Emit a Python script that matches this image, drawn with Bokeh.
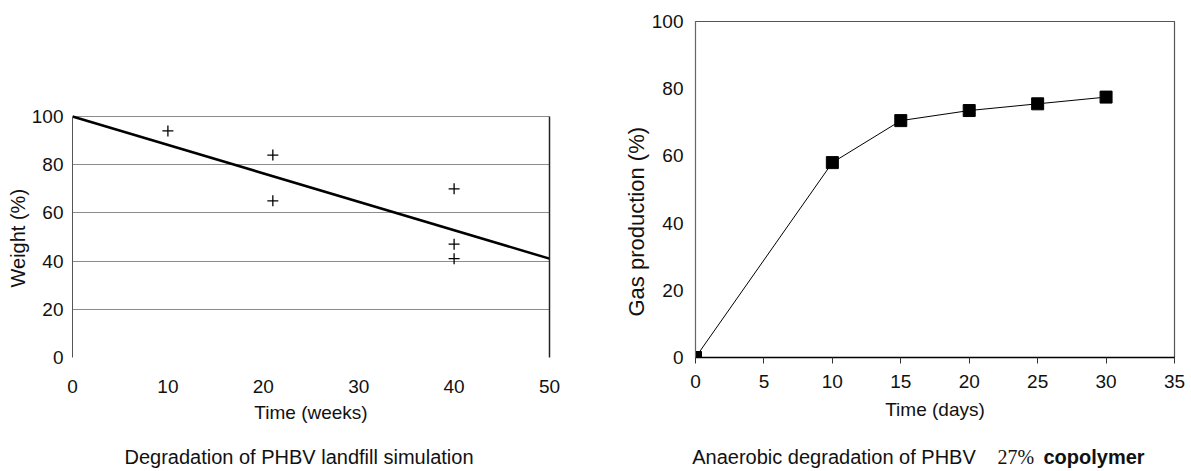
from bokeh.plotting import figure
from bokeh.layouts import row, column
from bokeh.models import Range1d, FixedTicker, LinearAxis, Title
from bokeh.core.properties import value
from bokeh.embed import file_html
from bokeh.resources import INLINE

# ---- data: left chart (landfill simulation) ----
weeks_pts = [10, 21, 21, 40, 40, 40]
weight_pts = [94, 84, 65, 70, 47, 41]
fit_weeks = [0, 50]
fit_weight = [100, 41]
left_xticks = [0, 10, 20, 30, 40, 50]
left_yticks = [0, 20, 40, 60, 80, 100]

# ---- data: right chart (anaerobic degradation) ----
days = [0, 10, 15, 20, 25, 30]
gas = [0, 58, 70.5, 73.5, 75.5, 77.5]
right_xticks = [0, 5, 10, 15, 20, 25, 30, 35]
right_yticks = [0, 20, 40, 60, 80, 100]

# ---- captions ----
left_caption = "Degradation of PHBV landfill simulation"
right_caption_parts = ["Anaerobic degradation of PHBV", "27%", "copolymer"]

FONT = "Liberation Sans"
FS = "19px"
TXT = "#111111"

CHART_H = 439
TOP = 21
BOTTOM = 82


def style_axis(ax):
    ax.major_label_text_font = FONT
    ax.major_label_text_font_size = FS
    ax.major_label_text_color = TXT
    ax.axis_label_text_font = FONT
    ax.axis_label_text_font_size = FS
    ax.axis_label_text_font_style = "normal"
    ax.axis_label_text_color = TXT
    ax.minor_tick_line_color = None


# ---------------- left figure ----------------
p1 = figure(width=620, height=CHART_H, x_range=Range1d(0, 50), y_range=Range1d(0, 139.4),
            output_backend="svg", toolbar_location=None,
            min_border_left=72, min_border_right=71, min_border_top=TOP, min_border_bottom=BOTTOM)
p1.outline_line_color = None
p1.xgrid.grid_line_color = None
p1.ygrid.grid_line_color = "#8c8c8c"
p1.ygrid.grid_line_width = 1
p1.xaxis.ticker = FixedTicker(ticks=left_xticks)
p1.yaxis.ticker = FixedTicker(ticks=left_yticks)
style_axis(p1.xaxis[0])
style_axis(p1.yaxis[0])
p1.xaxis.axis_line_color = None
p1.xaxis.major_tick_out = 0
p1.xaxis.major_tick_in = 0
p1.xaxis.major_label_standoff = 22
p1.xaxis.axis_label = "Time (weeks)"
p1.xaxis.axis_label_standoff = 6
p1.yaxis.bounds = (0, 100)
p1.yaxis.axis_line_color = "#555555"
p1.yaxis.major_tick_out = 0
p1.yaxis.major_tick_in = 0
p1.yaxis.major_label_standoff = 9
p1.add_layout(Title(text="Weight (%)", align="left", offset=70, standoff=0,
                    text_font=FONT, text_font_size="20px", text_font_style="normal",
                    text_color=TXT), "left")

rborder = LinearAxis(bounds=(0, 100), ticker=FixedTicker(ticks=[]),
                     axis_line_color="#222222", axis_line_width=1.5,
                     major_tick_line_color=None, minor_tick_line_color=None,
                     major_label_text_font_size="0px")
p1.add_layout(rborder, "right")

p1.line(fit_weeks, fit_weight, line_color="black", line_width=2.5)
p1.scatter(weeks_pts, weight_pts, marker="cross", size=11, line_color="black", line_width=1.3)

# ---------------- right figure ----------------
p2 = figure(width=571, height=CHART_H, x_range=Range1d(0, 35), y_range=Range1d(0, 100),
            output_backend="svg", toolbar_location=None,
            min_border_left=75, min_border_right=17, min_border_top=TOP, min_border_bottom=BOTTOM)
p2.outline_line_color = "#555555"
p2.outline_line_width = 1.2
p2.grid.grid_line_color = None
p2.xaxis.ticker = FixedTicker(ticks=right_xticks)
p2.yaxis.ticker = FixedTicker(ticks=right_yticks)
style_axis(p2.xaxis[0])
style_axis(p2.yaxis[0])
p2.xaxis.axis_line_color = "black"
p2.xaxis.axis_line_width = 1.3
p2.xaxis.major_tick_line_color = "#333333"
p2.xaxis.major_tick_out = 6
p2.xaxis.major_tick_in = 0
p2.xaxis.major_label_standoff = 11
p2.xaxis.axis_label = "Time (days)"
p2.xaxis.axis_label_standoff = 8
p2.yaxis.axis_line_color = "#666666"
p2.yaxis.major_tick_out = 0
p2.yaxis.major_tick_in = 0
p2.yaxis.major_label_standoff = 12
p2.add_layout(Title(text="Gas production (%)", align="left", offset=41, standoff=0,
                    text_font=FONT, text_font_size="22px", text_font_style="normal",
                    text_color=TXT), "left")

p2.line(days, gas, line_color="black", line_width=1)
p2.scatter(days, gas, marker="square", size=12, fill_color="black", line_color="black")

# ---------------- caption strip ----------------
cap = figure(width=1191, height=471 - CHART_H, x_range=Range1d(0, 1191), y_range=Range1d(0, 471 - CHART_H),
             output_backend="svg", toolbar_location=None,
             min_border_left=0, min_border_right=0, min_border_top=0, min_border_bottom=0)
cap.axis.visible = False
cap.grid.visible = False
cap.outline_line_color = None

CAP_Y = 15
cap.text(x=[298.5], y=[CAP_Y], text=[left_caption], text_font=value(FONT), text_font_size="20px",
         text_align="center", text_baseline="alphabetic", text_color=TXT)
cap.text(x=[833.5], y=[CAP_Y], text=[right_caption_parts[0]], text_font=value(FONT), text_font_size="20px",
         text_align="center", text_baseline="alphabetic", text_color=TXT)
cap.text(x=[997], y=[CAP_Y], text=[right_caption_parts[1]], text_font=value("Liberation Serif"),
         text_font_size="20px", text_align="left", text_baseline="alphabetic", text_color=TXT)
cap.text(x=[1043], y=[CAP_Y], text=[right_caption_parts[2]], text_font=value(FONT), text_font_size="20px",
         text_font_style="bold", text_align="left", text_baseline="alphabetic", text_color=TXT)

layout = column(row(p1, p2), cap)
open("out.html", "w").write(file_html(layout, INLINE))
